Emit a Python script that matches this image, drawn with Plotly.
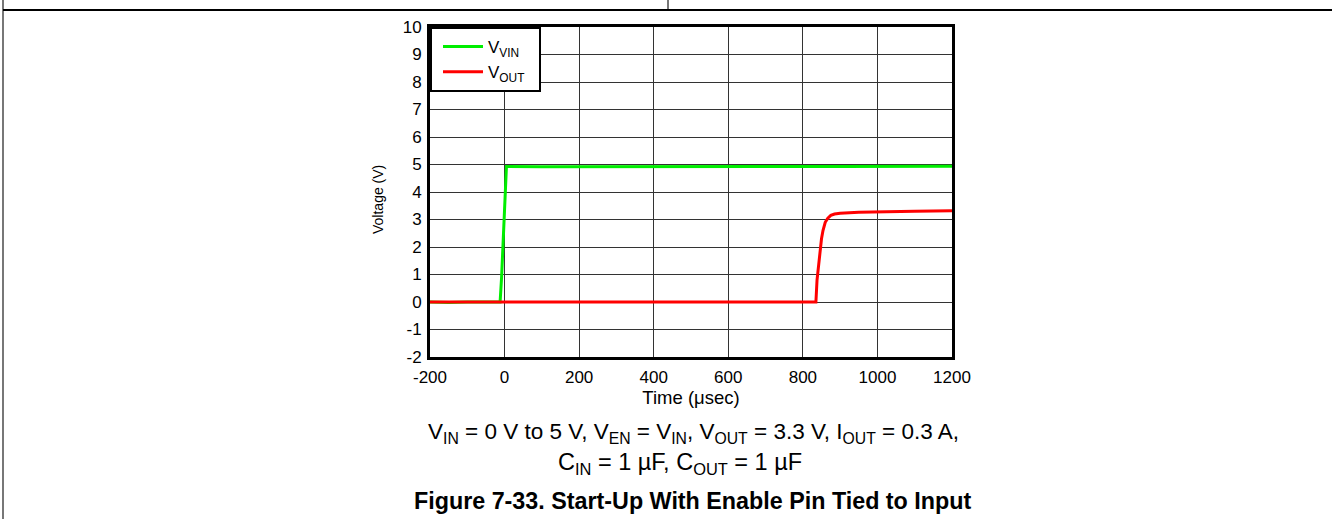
import plotly.graph_objects as go

# ---- data ----
time_vin = [-200, -150, -100, -50, -12, -8, -4, 0, 3, 5, 100, 300, 500, 700, 900, 1100, 1200]
vin = [0.0, -0.02, 0.0, -0.01, 0.0, 0.9, 2.3, 3.8, 4.7, 4.93, 4.92, 4.93, 4.92, 4.93, 4.93, 4.93, 4.94]

time_vout = [-200, 0, 200, 400, 600, 800, 835, 838, 842, 846, 850, 854, 860, 867, 875, 885, 900,
             950, 1000, 1050, 1100, 1150, 1200]
vout = [0.0, 0.0, 0.0, 0.0, 0.0, 0.0, 0.0, 0.8, 1.4, 1.9, 2.3, 2.6, 2.9, 3.05, 3.15, 3.2, 3.23,
        3.26, 3.28, 3.29, 3.3, 3.31, 3.32]

x_ticks = [-200, 0, 200, 400, 600, 800, 1000, 1200]
y_ticks = [-2, -1, 0, 1, 2, 3, 4, 5, 6, 7, 8, 9, 10]

# ---- layout geometry ----
W, H = 1332, 519
L, R, T, B = 430, 380, 27, 162
PW, PH = W - L - R, H - T - B


def px(x):
    return (x - L) / PW


def py(y):
    return 1 - (y - T) / PH


FONT = "Liberation Sans, Arial, sans-serif"
NB = "\u00a0"

fig = go.Figure()
fig.add_trace(go.Scatter(x=time_vin, y=vin, mode="lines", name="V<sub>VIN</sub>" + NB * 2,
                         line=dict(color="#00ee00", width=3)))
fig.add_trace(go.Scatter(x=time_vout, y=vout, mode="lines", name="V<sub>OUT</sub>" + NB * 2,
                         line=dict(color="#ff0000", width=3)))

axis_common = dict(showline=True, linecolor="black", linewidth=3, mirror=True,
                   showgrid=True, gridcolor="#333333", gridwidth=1, zeroline=False,
                   ticks="", tickfont=dict(family=FONT, size=17, color="black"))

fig.update_xaxes(range=[-200, 1200], tickvals=x_ticks, ticktext=[str(v) for v in x_ticks],
                 ticklabelstandoff=3,
                 title=dict(text="Time (μsec)", font=dict(family=FONT, size=18.5, color="black"),
                            standoff=0), **axis_common)
fig.update_yaxes(range=[-2, 10], tickvals=y_ticks, ticktext=[str(v) for v in y_ticks],
                 ticklabelstandoff=2, **axis_common)

shapes = [
    # page frame lines
    dict(type="line", xref="paper", yref="paper", x0=px(3), x1=px(3), y0=py(0), y1=py(H),
         line=dict(color="#777777", width=2)),
    dict(type="line", xref="paper", yref="paper", x0=px(3), x1=px(W), y0=py(10), y1=py(10),
         line=dict(color="black", width=2)),
    dict(type="line", xref="paper", yref="paper", x0=px(668), x1=px(668), y0=py(0), y1=py(9),
         line=dict(color="#777777", width=2)),
]

annotations = [
    dict(text="Voltage (V)", x=px(378), y=py(200), xref="paper", yref="paper", showarrow=False,
         textangle=-90, xanchor="center", yanchor="middle",
         font=dict(family=FONT, size=14, color="black")),
    dict(text="V<sub>IN</sub> = 0 V to 5 V, V<sub>EN</sub> = V<sub>IN</sub>, V<sub>OUT</sub> = 3.3 V, "
              "I<sub>OUT</sub> = 0.3 A,",
         x=px(693), y=py(433), xref="paper", yref="paper", showarrow=False,
         xanchor="center", yanchor="middle", font=dict(family=FONT, size=22.5, color="black")),
    dict(text="C<sub>IN</sub> = 1 µF, C<sub>OUT</sub> = 1 µF",
         x=px(680), y=py(463), xref="paper", yref="paper", showarrow=False,
         xanchor="center", yanchor="middle", font=dict(family=FONT, size=23.5, color="black")),
    dict(text="<b>Figure 7-33. Start-Up With Enable Pin Tied to Input</b>",
         x=px(692), y=py(501), xref="paper", yref="paper", showarrow=False,
         xanchor="center", yanchor="middle", font=dict(family=FONT, size=23.3, color="black")),
]

fig.update_layout(
    width=W, height=H,
    margin=dict(l=L, r=R, t=T, b=B, autoexpand=False),
    paper_bgcolor="white", plot_bgcolor="white",
    shapes=shapes, annotations=annotations,
    legend=dict(x=0, y=1, xanchor="left", yanchor="top", bgcolor="white",
                bordercolor="black", borderwidth=2, indentation=6,
                font=dict(family=FONT, size=17, color="black"),
                itemwidth=40, tracegroupgap=0),
)

fig.write_html("out.html", config={"displayModeBar": False},
               post_script="document.body.style.margin='0';")
